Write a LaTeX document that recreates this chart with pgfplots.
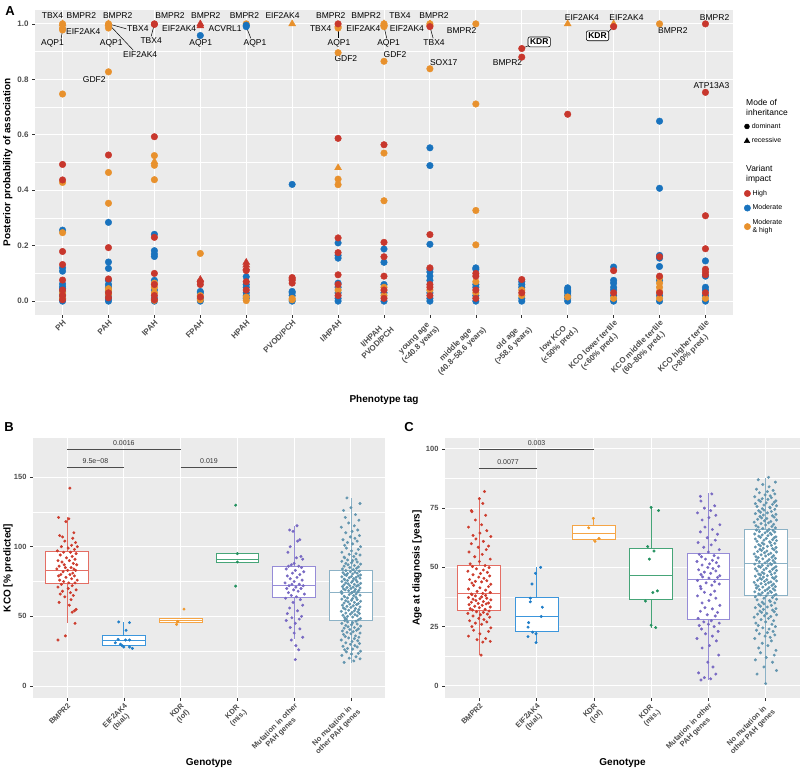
\documentclass[border=0pt]{standalone}
\usepackage{fontspec}
\setmainfont{Liberation Sans}
\usepackage{pgfplots}
\pgfplotsset{compat=1.18}
\usepgfplotslibrary{statistics}
\definecolor{bg}{RGB}{235,235,235}
\definecolor{tickc}{RGB}{51,51,51}
\definecolor{labc}{RGB}{77,77,77}
\definecolor{cR}{RGB}{200,55,45}
\definecolor{cB}{RGB}{25,115,190}
\definecolor{cO}{RGB}{232,145,45}
\definecolor{g1}{RGB}{205,60,45}\definecolor{g1b}{RGB}{228,110,100}
\definecolor{g2}{RGB}{30,125,200}\definecolor{g2b}{RGB}{60,150,220}
\definecolor{g3}{RGB}{240,150,40}\definecolor{g3b}{RGB}{245,165,70}
\definecolor{g4}{RGB}{35,145,95}\definecolor{g4b}{RGB}{70,165,120}
\definecolor{g5}{RGB}{120,105,195}\definecolor{g5b}{RGB}{150,140,215}
\definecolor{g6}{RGB}{100,150,175}\definecolor{g6b}{RGB}{140,178,198}
\newcommand\fA{\fontsize{8}{9}\selectfont\bfseries}
\newcommand\fT{\fontsize{8}{9}\selectfont\bfseries}
\newcommand\fS{\fontsize{7.5}{8.5}\selectfont\bfseries}
\newcommand\fG{\fontsize{8.5}{9}\selectfont}
\newcommand\fTi{\fontsize{10}{12}\selectfont\bfseries}
\pgfplotsset{
  gg/.style={scale only axis, anchor=south west,
    axis background/.style={fill=bg},
    grid=both, major grid style={white, line width=1pt},
    minor grid style={white, line width=0.5pt},
    axis line style={draw=none},
    tick align=outside, major tick length=3pt, minor tick length=0pt,
    tick style={color=tickc, line width=0.6pt}, tick pos=left, clip=false,
    /pgf/number format/assume math mode=true,
    ticklabel style={text=labc},
    label style={font=\fTi}},
  bx/.style={line width=0.8pt, fill=white, solid, boxplot/draw direction=y},
  pt/.style={only marks, mark=*, mark size=1.3pt}
}
\tikzset{
  gl/.style={font=\fG, inner sep=0.5pt},
  ll/.style={black, line width=0.5pt}
}
\begin{document}
\begin{tikzpicture}
\path[use as bounding box] (0,0) rectangle (800pt,772pt);
% ================= Panel A =================
\begin{axis}[gg, at={(35pt,457pt)}, width=698pt, height=305pt,
  xmin=-0.6, xmax=14.6, ymin=-0.05, ymax=1.05,
  xtick={0,...,14}, ytick={0,0.2,0.4,0.6,0.8,1.0}, minor y tick num=1,
  yticklabel style={font=\fT, /pgf/number format/.cd, fixed, fixed zerofill, precision=1},
  xticklabel style={font=\fA, rotate=45, anchor=north east, align=center, inner sep=1pt},
  xticklabels={PH,PAH,IPAH,FPAH,HPAH,PVOD/PCH,I/HPAH,{I/HPAH\\PVOD/PCH},{young age\\(<40.8 years)},{middle age\\(40.8--58.6 years)},{old age\\(>58.6 years)},{low KCO\\(<50\% pred.)},{KCO lower tertile\\(<60\% pred.)},{KCO middle tertile\\(60--80\% pred.)},{KCO higher tertile\\(>80\% pred.)}},
  xlabel={Phenotype tag}, ylabel={Posterior probability of association},
  xlabel style={at={(axis description cs:0.5,-0.279)}, anchor=center},
  ylabel style={at={(axis description cs:-0.039,0.5)}, anchor=center}]
% Moderate (blue)
\addplot[only marks, mark=*, mark size=3.3pt, color=cB] coordinates {
(0,0.256)(0,0.12)(0,0.108)(0,0.062)(0,0.052)(0,0.045)(0,0.035)(0,0.025)(0,0.015)(0,0.008)(0,0)
(1,0.284)(1,0.141)(1,0.118)(1,0.075)(1,0.06)(1,0.05)(1,0.035)(1,0.02)(1,0.008)(1,0)
(2,0.241)(2,0.182)(2,0.17)(2,0.161)(2,0.075)(2,0.04)(2,0.01)(2,0)
(3,0.958)(3,0.035)(3,0.03)(3,0.01)(3,0)
(4,0.088)(4,0.06)(4,0.05)(4,0.03)(4,0.02)(4,0.01)
(5,0.421)(5,0.035)(5,0.03)(5,0.02)(5,0)
(6,0.21)(6,0.165)(6,0.155)(6,0.065)(6,0.05)(6,0.03)(6,0.01)(6,0)
(7,0.188)(7,0.14)(7,0.06)(7,0.03)(7,0)
(8,0.553)(8,0.489)(8,0.205)(8,0.115)(8,0.105)(8,0.09)(8,0.075)(8,0.03)(8,0.01)(8,0)
(9,0.12)(9,0.115)(9,0.06)(9,0.05)(9,0.02)(9,0)
(10,0.07)(10,0.06)(10,0.05)(10,0.01)(10,0)
(11,0.048)(11,0.04)(11,0.035)(11,0.03)(11,0.02)(11,0.01)(11,0)
(12,0.123)(12,0.075)(12,0.065)(12,0.05)(12,0.04)(12,0.02)(12,0)
(13,0.649)(13,0.407)(13,0.165)(13,0.155)(13,0.125)(13,0.075)(13,0.02)(13,0)
(14,0.145)(14,0.09)(14,0.05)(14,0.04)(14,0.02)(14,0)};
% Moderate & high (orange)
\addplot[only marks, mark=*, mark size=3.3pt, color=cO] coordinates {
(0,1.0)(0,0.985)(0,0.978)(0,0.747)(0,0.428)(0,0.247)(0,0.03)(0,0.01)
(1,1.0)(1,0.995)(1,0.985)(1,0.827)(1,0.464)(1,0.353)(1,0.045)(1,0.04)(1,0.025)
(2,0.525)(2,0.49)(2,0.438)(2,0.065)(2,0.05)(2,0.03)(2,0.003)
(3,0.172)(3,0.02)(3,0.005)
(4,1.0)(4,0.015)(4,0.002)
(5,0.01)(5,0.005)
(6,0.99)(6,0.985)(6,0.896)(6,0.44)(6,0.42)(6,0.04)
(7,1.0)(7,0.995)(7,0.99)(7,0.865)(7,0.534)(7,0.362)(7,0.05)(7,0.02)
(8,1.0)(8,0.838)(8,0.04)
(9,1.0)(9,0.711)(9,0.327)(9,0.203)(9,0.07)(9,0.03)
(10,0.04)(10,0.02)
(11,0.015)
(12,0.01)
(13,1.0)(13,0.085)(13,0.065)(13,0.05)(13,0.035)(13,0.01)
(14,0.01)};
\addplot[only marks, mark=*, mark size=3.3pt, color=cB] coordinates {(4,0.995)(4,0.99)};
\addplot[only marks, mark=triangle*, mark size=4pt, color=cO] coordinates {
(0,1.0)(1,1.0)(2,0.503)(5,1.0)(6,0.481)(7,1.0)(8,1.0)(11,1.0)(12,1.0)};
\addplot[only marks, mark=triangle*, mark size=4pt, color=cR] coordinates {
(3,1.0)(3,0.993)(3,0.078)(4,0.14)(4,0.13)(4,0.12)};
% High (red)
\addplot[only marks, mark=*, mark size=3.3pt, color=cR] coordinates {
(0,0.493)(0,0.437)(0,0.179)(0,0.132)(0,0.076)(0,0.04)(0,0.02)(0,0.005)
(1,0.527)(1,0.193)(1,0.08)(1,0.03)(1,0.012)
(2,1.0)(2,0.998)(2,0.593)(2,0.23)(2,0.1)(2,0.06)(2,0.02)(2,0.005)
(3,0.07)(3,0.06)(3,0.015)
(4,0.11)(4,0.07)(4,0.04)
(5,0.085)(5,0.08)(5,0.075)(5,0.065)
(6,1.0)(6,0.587)(6,0.228)(6,0.175)(6,0.095)(6,0.06)(6,0.02)
(7,0.564)(7,0.212)(7,0.16)(7,0.09)(7,0.04)(7,0.01)
(8,0.99)(8,0.24)(8,0.12)(8,0.06)(8,0.05)(8,0.02)
(9,0.1)(9,0.09)(9,0.04)(9,0.01)
(10,0.911)(10,0.88)(10,0.078)(10,0.03)
(11,0.674)
(12,0.99)(12,0.11)(12,0.03)
(13,0.16)(13,0.09)(13,0.03)
(14,1.0)(14,0.753)(14,0.308)(14,0.189)(14,0.115)(14,0.105)(14,0.095)(14,0.03)};
% leader lines
\draw[ll] (axis cs:0,0.978) -- (axis cs:-0.03,0.947);
\draw[ll] (axis cs:1,1) -- (axis cs:1.39,0.982);
\draw[ll] (axis cs:1,1) -- (axis cs:1.54,0.905);
\draw[ll] (axis cs:2,1) -- (axis cs:1.93,0.955);
\draw[ll] (axis cs:4,0.99) -- (axis cs:4.1,0.948);
\draw[ll] (axis cs:6,0.99) -- (axis cs:6,0.948);
\draw[ll] (axis cs:7,0.99) -- (axis cs:7.06,0.948);
\draw[ll] (axis cs:8,0.99) -- (axis cs:8.07,0.948);
\draw[ll] (axis cs:10,0.911) -- (axis cs:10.2,0.925);
\draw[ll] (axis cs:12,0.99) -- (axis cs:11.85,0.965);
% gene labels
\node[gl] at (axis cs:-0.22,1.029) {TBX4};
\node[gl] at (axis cs:0.41,1.029) {BMPR2};
\node[gl] at (axis cs:0.45,0.971) {EIF2AK4};
\node[gl] at (axis cs:-0.22,0.931) {AQP1};
\node[gl] at (axis cs:1.2,1.029) {BMPR2};
\node[gl] at (axis cs:1.64,0.982) {TBX4};
\node[gl] at (axis cs:1.06,0.931) {AQP1};
\node[gl] at (axis cs:1.69,0.89) {EIF2AK4};
\node[gl] at (axis cs:0.69,0.80) {GDF2};
\node[gl] at (axis cs:2.34,1.029) {BMPR2};
\node[gl] at (axis cs:1.93,0.938) {TBX4};
\node[gl] at (axis cs:3.12,1.029) {BMPR2};
\node[gl] at (axis cs:2.54,0.982) {EIF2AK4};
\node[gl] at (axis cs:3.01,0.931) {AQP1};
\node[gl] at (axis cs:3.96,1.029) {BMPR2};
\node[gl] at (axis cs:3.54,0.982) {ACVRL1};
\node[gl] at (axis cs:4.19,0.931) {AQP1};
\node[gl] at (axis cs:4.79,1.029) {EIF2AK4};
\node[gl] at (axis cs:5.84,1.029) {BMPR2};
\node[gl] at (axis cs:5.62,0.982) {TBX4};
\node[gl] at (axis cs:6.02,0.931) {AQP1};
\node[gl] at (axis cs:6.17,0.873) {GDF2};
\node[gl] at (axis cs:6.55,0.982) {EIF2AK4};
\node[gl] at (axis cs:6.61,1.029) {BMPR2};
\node[gl] at (axis cs:7.35,1.029) {TBX4};
\node[gl] at (axis cs:7.5,0.982) {EIF2AK4};
\node[gl] at (axis cs:7.1,0.931) {AQP1};
\node[gl] at (axis cs:7.24,0.888) {GDF2};
\node[gl] at (axis cs:8.09,1.029) {BMPR2};
\node[gl] at (axis cs:8.09,0.931) {TBX4};
\node[gl] at (axis cs:8.3,0.859) {SOX17};
\node[gl] at (axis cs:8.69,0.975) {BMPR2};
\node[gl, draw, rounded corners=2pt, inner sep=2pt, fill=white, font=\fG\bfseries, line width=0.6pt] at (axis cs:10.38,0.935) {KDR};
\node[gl] at (axis cs:9.69,0.859) {BMPR2};
\node[gl] at (axis cs:11.31,1.022) {EIF2AK4};
\node[gl] at (axis cs:12.28,1.022) {EIF2AK4};
\node[gl, draw, rounded corners=2pt, inner sep=2pt, fill=white, font=\fG\bfseries, line width=0.6pt] at (axis cs:11.65,0.957) {KDR};
\node[gl] at (axis cs:13.29,0.975) {BMPR2};
\node[gl] at (axis cs:14.2,1.022) {BMPR2};
\node[gl] at (axis cs:14.13,0.776) {ATP13A3};
\end{axis}
% legends of panel A
\node[anchor=north west, align=left, font=\fontsize{8.5}{10}\selectfont, inner sep=0pt] at (746pt,673pt) {Mode of\\inheritance};
\begin{axis}[hide axis, scale only axis, width=10pt, height=10pt, at={(744pt,651pt)}, anchor=north west,
  xmin=0, xmax=1, ymin=0, ymax=1,
  legend style={at={(0,1)}, anchor=north west, draw=none, fill=none, font=\fontsize{7}{8}\selectfont, row sep=4pt, inner sep=0pt},
  legend cell align=left]
\addlegendimage{only marks, mark=*, mark size=2.5pt, black}
\addlegendentry{dominant}
\addlegendimage{only marks, mark=triangle*, mark size=3.2pt, black}
\addlegendentry{recessive}
\end{axis}
\node[anchor=north west, align=left, font=\fontsize{8.5}{10}\selectfont, inner sep=0pt] at (746pt,607pt) {Variant\\impact};
\begin{axis}[hide axis, scale only axis, width=10pt, height=10pt, at={(744pt,584pt)}, anchor=north west,
  xmin=0, xmax=1, ymin=0, ymax=1,
  legend style={at={(0,1)}, anchor=north west, draw=none, fill=none, font=\fontsize{7}{8}\selectfont, row sep=4pt, inner sep=0pt},
  legend cell align=left]
\addlegendimage{only marks, mark=*, mark size=3.2pt, cR}
\addlegendentry{High}
\addlegendimage{only marks, mark=*, mark size=3.2pt, cB}
\addlegendentry{Moderate}
\addlegendimage{only marks, mark=*, mark size=3.2pt, cO}
\addlegendentry[align=left]{Moderate\\\& high}
\end{axis}
\node[font=\fontsize{13}{14}\selectfont\bfseries] at (10pt,761pt) {A};
\node[font=\fontsize{13}{14}\selectfont\bfseries] at (9pt,345pt) {B};
\node[font=\fontsize{13}{14}\selectfont\bfseries] at (409pt,345pt) {C};
% ================= Panel B =================
\begin{axis}[gg, at={(33pt,74pt)}, width=352pt, height=260pt,
  xmin=-0.6, xmax=5.6, ymin=-8.6, ymax=178,
  xtick={0,...,5}, ytick={0,50,100,150}, minor y tick num=1,
  yticklabel style={font=\fS},
  xticklabel style={font=\fS, rotate=45, anchor=north east, align=center, inner sep=1pt},
  xticklabels={BMPR2,{EIF2AK4\\(bial.)},{KDR\\(lof)},{KDR\\(mis.)},{Mutation in other\\PAH genes},{No mutation in\\other PAH genes}},
  xlabel={Genotype}, ylabel={KCO [\% predicted]},
  xlabel style={at={(axis description cs:0.5,-0.25)}, anchor=center},
  ylabel style={at={(axis description cs:-0.071,0.5)}, anchor=center}]
\addplot[bx, draw=g1b, boxplot prepared={draw position=0, box extend=0.75, whisker extend=0, lower whisker=45, lower quartile=73.9, median=83.2, upper quartile=96.3, upper whisker=121}] coordinates {};
\addplot[bx, draw=g2b, boxplot prepared={draw position=1, box extend=0.75, whisker extend=0, lower whisker=27, lower quartile=29.2, median=33, upper quartile=36.3, upper whisker=46}] coordinates {};
\addplot[bx, draw=g3b, boxplot prepared={draw position=2, box extend=0.75, whisker extend=0, lower whisker=45.4, lower quartile=45.4, median=46.9, upper quartile=48.6, upper whisker=48.6}] coordinates {};
\addplot[bx, draw=g4b, boxplot prepared={draw position=3, box extend=0.75, whisker extend=0, lower whisker=88.7, lower quartile=88.7, median=90.9, upper quartile=95.2, upper whisker=95.2}] coordinates {};
\addplot[bx, draw=g5b, boxplot prepared={draw position=4, box extend=0.75, whisker extend=0, lower whisker=33.5, lower quartile=63.6, median=72.2, upper quartile=85.9, upper whisker=114.8}] coordinates {};
\addplot[bx, draw=g6b, boxplot prepared={draw position=5, box extend=0.75, whisker extend=0, lower whisker=16.7, lower quartile=46.9, median=66.9, upper quartile=83, upper whisker=134.6}] coordinates {};
\addplot[pt, color=g1] table[row sep=\\, x expr=0.01*\thisrow{j}, y=y] {j y\\
5 142\\ -15 121\\ 3 120\\ -2 118\\ 12 110\\ -13 108\\ -8 107\\ 10 106\\ -4 104\\ 15 103\\ 8 101\\ 18 100\\ -10 100\\ 2 99\\ 13 98\\ -17 97\\ 6 96\\ -6 96\\ 16 95\\ -12 94\\ 9 93\\ -1 92\\ 14 91\\ -16 90\\ 4 90\\ -9 89\\ 11 88\\ -5 87\\ 17 87\\ -14 86\\ 7 85\\ -3 85\\ 12 84\\ -18 84\\ 1 83\\ 15 83\\ -7 82\\ 10 81\\ -11 80\\ 5 80\\ -15 79\\ 13 79\\ -2 78\\ 8 77\\ -13 76\\ 18 76\\ -6 75\\ 3 74\\ 14 74\\ -10 73\\ 9 72\\ -16 71\\ 2 70\\ 16 69\\ -8 68\\ 6 67\\ -12 66\\ 11 65\\ -4 64\\ 7 62\\ -14 60\\ 4 58\\ 16 55\\ 13 54\\ 9 53\\ 14 45\\ -3 36\\ -16 33\\
};
\addplot[pt, color=g2] table[row sep=\\, x expr=1+0.01*\thisrow{j}, y=y] {j y\\
-9 46\\ 10 45.5\\ 4 40\\ -15 31\\ -6 30\\ 0 28\\ 10 28\\ 15 27\\ 3 33\\ 10 33\\ -10 33.5\\ -3 29\\
};
\addplot[pt, color=g3] table[row sep=\\, x expr=2+0.01*\thisrow{j}, y=y] {j y\\
6 55.2\\ -5 46.3\\ -7 44.2\\
};
\addplot[pt, color=g4] table[row sep=\\, x expr=3+0.01*\thisrow{j}, y=y] {j y\\
-3 129.8\\ 0 95\\ 0 89\\ -3 71.7\\
};
\addplot[pt, color=g5] table[row sep=\\, x expr=4+0.01*\thisrow{j}, y=y] {j y\\
5 115\\ -8 112\\ -2 111\\ 10 105\\ 6 104\\ -7 100\\ -11 96\\ 12 93\\ 4 92\\ 15 91\\ 0 88\\ -5 87\\ -10 86\\ 8 86\\ 13 85\\ -14 84\\ 2 83\\ 17 82\\ -3 81\\ 10 80\\ -12 79\\ 5 78\\ -7 77\\ 14 76\\ 0 75\\ -16 74\\ 9 73\\ -4 73\\ 16 72\\ -9 72\\ 3 71\\ -13 70\\ 12 70\\ -1 69\\ 7 68\\ -10 67\\ 18 66\\ -5 65\\ 4 64\\ -15 63\\ 11 62\\ -2 60\\ 15 58\\ -8 56\\ 6 54\\ -12 52\\ 13 50\\ -4 49\\ 9 48\\ -14 47\\ 2 45\\ -7 42\\ 10 41\\ 0 38\\ 15 35\\ -5 33\\ 3 29\\ 8 26\\ 2 19\\
};
\addplot[pt, color=g6] table[row sep=\\, x expr=5+0.01*\thisrow{j}, y=y] {j y\\
-12 17\\ 5 18\\ 16 19.5\\ -3 20\\ 9 21\\ -16 22\\ 1 23\\ 13 23.5\\ -8 24.5\\ 17 25\\ -11 26\\ 3 26.5\\ -6 27\\ 11 28\\ -14 28.5\\ 7 29\\ -1 30\\ 15 30.5\\ -9 31\\ 2 32\\ 12 32.5\\ -17 33\\ 6 34\\ -4 34.5\\ 14 35\\ -10 35.5\\ 8 36\\ -13 37\\ 0 37.5\\ 16 38\\ -7 38.5\\ 4 39\\ -15 39.5\\ 10 40\\ -2 40.5\\ 13 41\\ -12 41.5\\ 6 42\\ -5 42.5\\ 17 43\\ -9 43.5\\ 1 44\\ 11 44.5\\ -16 45\\ 3 45.5\\ -6 46\\ 9 46.5\\ -11 47\\
13 47.5\\ -8 48\\ 17 48.5\\ -11 49\\ 3 49.5\\ -6 50\\ 11 50.4\\ -14 50.8\\ 7 51.2\\ -1 51.6\\ 15 52\\ -9 52.4\\ 2 52.8\\ 12 53.2\\ -17 53.6\\ 6 54\\ -4 54.4\\ 14 54.8\\ -10 55.2\\ 8 55.6\\ -13 56\\ 0 56.4\\ 16 56.8\\ -7 57.2\\ 4 57.6\\ -15 58\\ 10 58.4\\ -2 58.8\\ 13 59.2\\ -12 59.6\\ 6 60\\ -5 60.4\\ 17 60.8\\ -9 61.2\\ 1 61.6\\ 11 62\\ -16 62.4\\ 3 62.8\\ -6 63.2\\ 9 63.6\\ -11 64\\ -12 64.4\\ 5 64.8\\ 16 65.2\\ -3 65.6\\ 9 66\\ -16 66.4\\ 1 66.8\\
2 67.2\\ 12 67.5\\ -17 67.8\\ 6 68.1\\ -4 68.4\\ 14 68.7\\ -10 69\\ 8 69.4\\ -13 69.7\\ 0 70\\ 16 70.4\\ -7 70.7\\ 4 71\\ -15 71.4\\ 10 71.7\\ -2 72\\ 13 72.4\\ -12 72.7\\ 6 73\\ -5 73.4\\ 17 73.7\\ -9 74\\ 1 74.4\\ 11 74.7\\ -16 75\\ 3 75.4\\ -6 75.7\\ 9 76\\ -11 76.4\\ -12 76.7\\ 5 77\\ 16 77.4\\ -3 77.7\\ 9 78\\ -16 78.4\\ 1 78.7\\ 13 79\\ -8 79.4\\ 17 79.7\\ -11 80\\ 3 80.4\\ -6 80.7\\ 11 81\\ -14 81.4\\ 7 81.7\\ -1 82\\ 15 82.4\\ -9 82.8\\
4 83.5\\ -15 84\\ 10 84.5\\ -2 85\\ 13 85.5\\ -12 86\\ 6 86.5\\ -5 87\\ 17 87.5\\ -9 88\\ 1 88.5\\ 11 89\\ -16 89.5\\ 3 90\\ -6 90.5\\ 9 91\\ -11 92\\ -12 92.5\\ 5 93\\ 16 94\\ -3 94.5\\ 9 95\\ -16 96\\ 1 97\\ 13 98\\ -8 99\\ 17 100\\ -11 101\\ 3 102\\ -6 103\\ 11 104\\ -14 105\\ 7 106\\ -1 107\\ 15 108\\ -9 110\\ 2 111\\ 12 112\\ -17 114\\ 6 115\\ -4 117\\ 14 119\\ -10 121\\ 8 123\\ -13 126\\ 0 128\\ 16 131\\ -7 135\\
};
\draw[gray!60!black, line width=0.6pt] (axis cs:0,170) -- (axis cs:2,170);
\node[font=\fontsize{7}{8}\selectfont, text=tickc] at (axis cs:1,174.3) {0.0016};
\draw[gray!60!black, line width=0.6pt] (axis cs:0,156.9) -- (axis cs:1,156.9);
\node[font=\fontsize{7}{8}\selectfont, text=tickc] at (axis cs:0.5,161.2) {9.5e−08};
\draw[gray!60!black, line width=0.6pt] (axis cs:2,156.9) -- (axis cs:3,156.9);
\node[font=\fontsize{7}{8}\selectfont, text=tickc] at (axis cs:2.5,161.2) {0.019};
\end{axis}
% ================= Panel C =================
\begin{axis}[gg, at={(445pt,74pt)}, width=355pt, height=260pt,
  xmin=-0.6, xmax=5.6, ymin=-5.1, ymax=104.6,
  xtick={0,...,5}, ytick={0,25,50,75,100}, minor y tick num=1,
  yticklabel style={font=\fS},
  xticklabel style={font=\fS, rotate=45, anchor=north east, align=center, inner sep=1pt},
  xticklabels={BMPR2,{EIF2AK4\\(bial.)},{KDR\\(lof)},{KDR\\(mis.)},{Mutation in other\\PAH genes},{No mutation in\\other PAH genes}},
  xlabel={Genotype}, ylabel={Age at diagnosis [years]},
  xlabel style={at={(axis description cs:0.5,-0.25)}, anchor=center},
  ylabel style={at={(axis description cs:-0.079,0.5)}, anchor=center}]
\addplot[bx, draw=g1b, boxplot prepared={draw position=0, box extend=0.75, whisker extend=0, lower whisker=13.1, lower quartile=31.8, median=39.1, upper quartile=51, upper whisker=79.3}] coordinates {};
\addplot[bx, draw=g2b, boxplot prepared={draw position=1, box extend=0.75, whisker extend=0, lower whisker=18.3, lower quartile=22.8, median=29.3, upper quartile=37.3, upper whisker=50.1}] coordinates {};
\addplot[bx, draw=g3b, boxplot prepared={draw position=2, box extend=0.75, whisker extend=0, lower whisker=61, lower quartile=61.8, median=64.3, upper quartile=67.9, upper whisker=70.7}] coordinates {};
\addplot[bx, draw=g4b, boxplot prepared={draw position=3, box extend=0.75, whisker extend=0, lower whisker=24.6, lower quartile=36.6, median=46.7, upper quartile=58.1, upper whisker=75.3}] coordinates {};
\addplot[bx, draw=g5b, boxplot prepared={draw position=4, box extend=0.75, whisker extend=0, lower whisker=2.5, lower quartile=27.9, median=45.1, upper quartile=56, upper whisker=81.4}] coordinates {};
\addplot[bx, draw=g6b, boxplot prepared={draw position=5, box extend=0.75, whisker extend=0, lower whisker=1.1, lower quartile=38.3, median=51.8, upper quartile=66.2, upper whisker=87.7}] coordinates {};
\addplot[pt, color=g1] table[row sep=\\, x expr=0.01*\thisrow{j}, y=y] {j y\\
3 13\\ 6 18.5\\ 19 18.8\\ -4 19.5\\ 11 20\\ -19 21\\ 1 22\\ 16 23\\ -10 23.5\\ 20 24.5\\ -13 25\\ 4 26\\ -7 26.5\\ 13 27\\ -17 27.5\\ 8 28\\ -1 28.5\\ 18 29\\ -11 29.5\\ 2 30\\ 14 30.3\\ -20 30.6\\ 7 31\\ -5 31.3\\ 17 31.6\\
-12 32\\ 10 32.3\\ -16 32.6\\ 0 33\\ 19 33.3\\ -8 33.6\\ 5 34\\ -18 34.3\\ 12 34.6\\ -2 34.8\\ 16 35\\ -14 35.3\\ 7 35.6\\ -6 36\\ 20 36.3\\ -11 36.6\\ 1 36.8\\ 13 37\\ -19 37.3\\ 4 37.6\\ -7 38\\ 11 38.2\\ -13 38.5\\ -14 38.8\\ 6 39\\
19 39.4\\ -4 39.9\\ 11 40.4\\ -19 40.9\\ 1 41.4\\ 16 41.9\\ -10 42.4\\ 20 42.9\\ -13 43.4\\ 4 43.9\\ -7 44.1\\ 13 44.4\\ -17 44.9\\ 8 45.4\\ -1 45.9\\ 18 46.4\\ -11 46.9\\ 2 47.4\\ 14 47.9\\ -20 48.4\\ 7 48.9\\ -5 49.4\\ 17 49.9\\ -12 50.4\\ 10 50.8\\
-16 51.5\\ 0 52.5\\ 19 53.5\\ -8 54.5\\ 5 55.5\\ -18 56.5\\ 12 57.5\\ -2 58.5\\ 16 59\\ -14 60\\ 7 61\\ -6 62\\ 20 63\\ -11 63.5\\ 1 64.5\\ 13 65.5\\ -19 67\\ 4 68\\ -7 70\\ 11 72\\ -13 73.5\\ -14 74\\ 6 77\\ 0 79\\ 9 82\\
};
\addplot[pt, color=g2] table[row sep=\\, x expr=1+0.01*\thisrow{j}, y=y] {j y\\
7 50\\ -2 47.5\\ -8 43\\ -11 37\\ -11 35.5\\ 10 33.2\\ 8 29.3\\ -14 26.7\\ -15 24.8\\ -7 22.7\\ -1 22\\ -15 20.8\\ -1 18.3\\
};
\addplot[pt, color=g3] table[row sep=\\, x expr=2+0.01*\thisrow{j}, y=y] {j y\\
-1 70.7\\ -9 66.7\\ 9 62.2\\ 2 61\\
};
\addplot[pt, color=g4] table[row sep=\\, x expr=3+0.01*\thisrow{j}, y=y] {j y\\
0 75.3\\ 13 74\\ -6 58.8\\ 5 56.9\\ -3 53.5\\ 11 40.1\\ 3 39.4\\ -10 35.8\\ 0 25.6\\ 8 24.6\\
};
\addplot[pt, color=g5] table[row sep=\\, x expr=4+0.01*\thisrow{j}, y=y] {j y\\
-13 2.5\\ 4 3\\ -7 3.5\\ 13 5\\ -17 5.5\\ 8 8\\ -1 10\\ 18 13\\ -11 16\\ 2 17\\ 14 19\\ -20 20\\ 7 21\\ -5 22\\ 17 23\\ -12 24\\ 10 25\\ -16 25.5\\ 0 26\\ 19 26.5\\ -8 27\\ 5 27.5\\
-18 28.5\\ 12 29.5\\ -2 30\\ 16 31\\ -14 31.5\\ 7 32.5\\ -6 33\\ 20 34\\ -11 35\\ 1 36\\ 13 37\\ -19 38\\ 4 38.5\\ -7 39.5\\ 11 40\\ -13 41\\ -14 42\\ 6 42.5\\ 19 43\\ -4 43.5\\ 11 44\\ -19 44.5\\
1 45.5\\ 16 45.8\\ -10 46\\ 20 46.5\\ -13 47\\ 4 47.5\\ -7 48\\ 13 48.5\\ -17 49\\ 8 49.5\\ -1 50\\ 18 50.5\\ -11 51\\ 2 51.5\\ 14 52\\ -20 52.5\\ 7 53\\ -5 53.5\\ 17 54\\ -12 54.5\\ 10 55\\ -16 55.5\\
0 56.5\\ 19 57.5\\ -8 58.5\\ 5 59.5\\ -18 60.5\\ 12 61.5\\ -2 62.5\\ 16 64\\ -14 65\\ 7 66\\ -6 67\\ 20 68\\ -11 70\\ 1 71\\ 13 72\\ -19 73\\ 4 74\\ -7 75\\ 11 76\\ -13 78\\ -14 80\\ 6 81\\
};
\addplot[pt, color=g6] table[row sep=\\, x expr=5+0.01*\thisrow{j}, y=y] {j y\\
0 1\\ -15 5\\ 19 6.5\\ -3 8\\ 12 10\\ -18 11\\ 1 12\\ 15 13\\ -9 14\\ 18 15\\ -12 16\\ 4 17\\ -6 18\\ 10 19\\ -19 20\\ 8 20.5\\ -1 21\\ 16 21.5\\ -11 22\\ 3 22.5\\ 13 23\\ -16 23.5\\ 6 24\\ -5 24.5\\ 17 25\\ -13 25.5\\ 11 26\\ -17 26.5\\ 0 27\\ 14 27.5\\ -8 28\\ 5 28.5\\ -20 29\\ 9 29.3\\ -2 29.6\\ 19 30\\ -14 30.3\\ 2 30.6\\ -7 31\\ 15 31.3\\ -10 31.6\\ 12 32\\ -4 32.3\\ 18 32.6\\ -18 33\\ 3 33.3\\ -9 33.6\\ 10 34\\ -12 34.3\\ -3 34.6\\ 16 35\\ -6 35.3\\ 8 35.6\\ 7 36\\ -15 36.3\\ 19 36.6\\ -3 37\\ 12 37.3\\ -18 37.6\\ 1 38\\ 15 38.2\\
-9 38.4\\ 18 38.6\\ -12 38.8\\ 4 39.1\\ -6 39.3\\ 10 39.5\\ -19 39.7\\ 8 39.9\\ -1 40.2\\ 16 40.4\\ -11 40.6\\ 3 40.8\\ 13 41.0\\ -16 41.3\\ 6 41.5\\ -5 41.7\\ 17 41.9\\ -13 42.1\\ 11 42.4\\ -17 42.6\\ 0 42.8\\ 14 43.0\\ -8 43.2\\ 5 43.5\\ -20 43.7\\ 9 43.9\\ -2 44.1\\ 19 44.3\\ -14 44.6\\ 2 44.8\\ -7 45.0\\ 15 45.2\\ -10 45.4\\ 12 45.7\\ -4 45.9\\ 18 46.1\\ -18 46.3\\ 3 46.5\\ -9 46.8\\ 10 47.0\\ -12 47.2\\ -3 47.4\\ 16 47.6\\ -6 47.9\\ 8 48.1\\ 7 48.3\\ -15 48.5\\ 19 48.7\\ -3 49.0\\ 12 49.2\\ -18 49.4\\ 1 49.6\\ 15 49.8\\ -9 50.1\\ 18 50.3\\ -12 50.5\\ 4 50.7\\ -6 50.9\\ 10 51.2\\ -19 51.4\\ 8 51.6\\
-1 51.9\\ 16 52.1\\ -11 52.4\\ 3 52.6\\ 13 52.9\\ -16 53.1\\ 6 53.3\\ -5 53.6\\ 17 53.8\\ -13 54.1\\ 11 54.3\\ -17 54.5\\ 0 54.8\\ 14 55.0\\ -8 55.3\\ 5 55.5\\ -20 55.7\\ 9 56.0\\ -2 56.2\\ 19 56.5\\ -14 56.7\\ 2 56.9\\ -7 57.2\\ 15 57.4\\ -10 57.7\\ 12 57.9\\ -4 58.1\\ 18 58.4\\ -18 58.6\\ 3 58.9\\ -9 59.1\\ 10 59.3\\ -12 59.6\\ -3 59.8\\ 16 60.1\\ -6 60.3\\ 8 60.5\\ 7 60.8\\ -15 61.0\\ 19 61.3\\ -3 61.5\\ 12 61.7\\ -18 62.0\\ 1 62.2\\ 15 62.5\\ -9 62.7\\ 18 62.9\\ -12 63.2\\ 4 63.4\\ -6 63.7\\ 10 63.9\\ -19 64.1\\ 8 64.4\\ -1 64.6\\ 16 64.9\\ -11 65.1\\ 3 65.3\\ 13 65.6\\ -16 65.8\\ 6 66.0\\
-5 66.4\\ 17 66.7\\ -13 67.0\\ 11 67.3\\ -17 67.6\\ 0 67.9\\ 14 68.2\\ -8 68.5\\ 5 68.8\\ -20 69.1\\ 9 69.4\\ -2 69.7\\ 19 70.0\\ -14 70.3\\ 2 70.6\\ -7 70.9\\ 15 71.2\\ -10 71.5\\ 12 71.8\\ -4 72.1\\ 18 72.4\\ -18 72.7\\ 3 73.0\\ -9 73.3\\ 10 73.6\\ -12 73.9\\ -3 74.2\\ 16 74.5\\ -6 74.8\\ 8 75.1\\ 7 75.4\\ -15 75.7\\ 19 76.0\\ -3 76.3\\ 12 76.6\\ -18 76.9\\ 1 77.2\\ 15 77.5\\ -9 77.8\\ 18 78.1\\ -12 78.4\\ 4 78.7\\ -6 79.0\\ 10 79.4\\ -19 79.8\\ 8 80.2\\ -1 80.6\\ 16 81.0\\ -11 81.5\\ 3 82\\ 13 82.5\\ -16 83\\ 6 84\\ -5 85\\ 17 86\\ -13 87\\ 5 88\\
};
\draw[gray!60!black, line width=0.6pt] (axis cs:0,100) -- (axis cs:2,100);
\node[font=\fontsize{7}{8}\selectfont, text=tickc] at (axis cs:1,102.6) {0.003};
\draw[gray!60!black, line width=0.6pt] (axis cs:0,91.9) -- (axis cs:1,91.9);
\node[font=\fontsize{7}{8}\selectfont, text=tickc] at (axis cs:0.5,94.5) {0.0077};
\end{axis}
\end{tikzpicture}
\end{document}
